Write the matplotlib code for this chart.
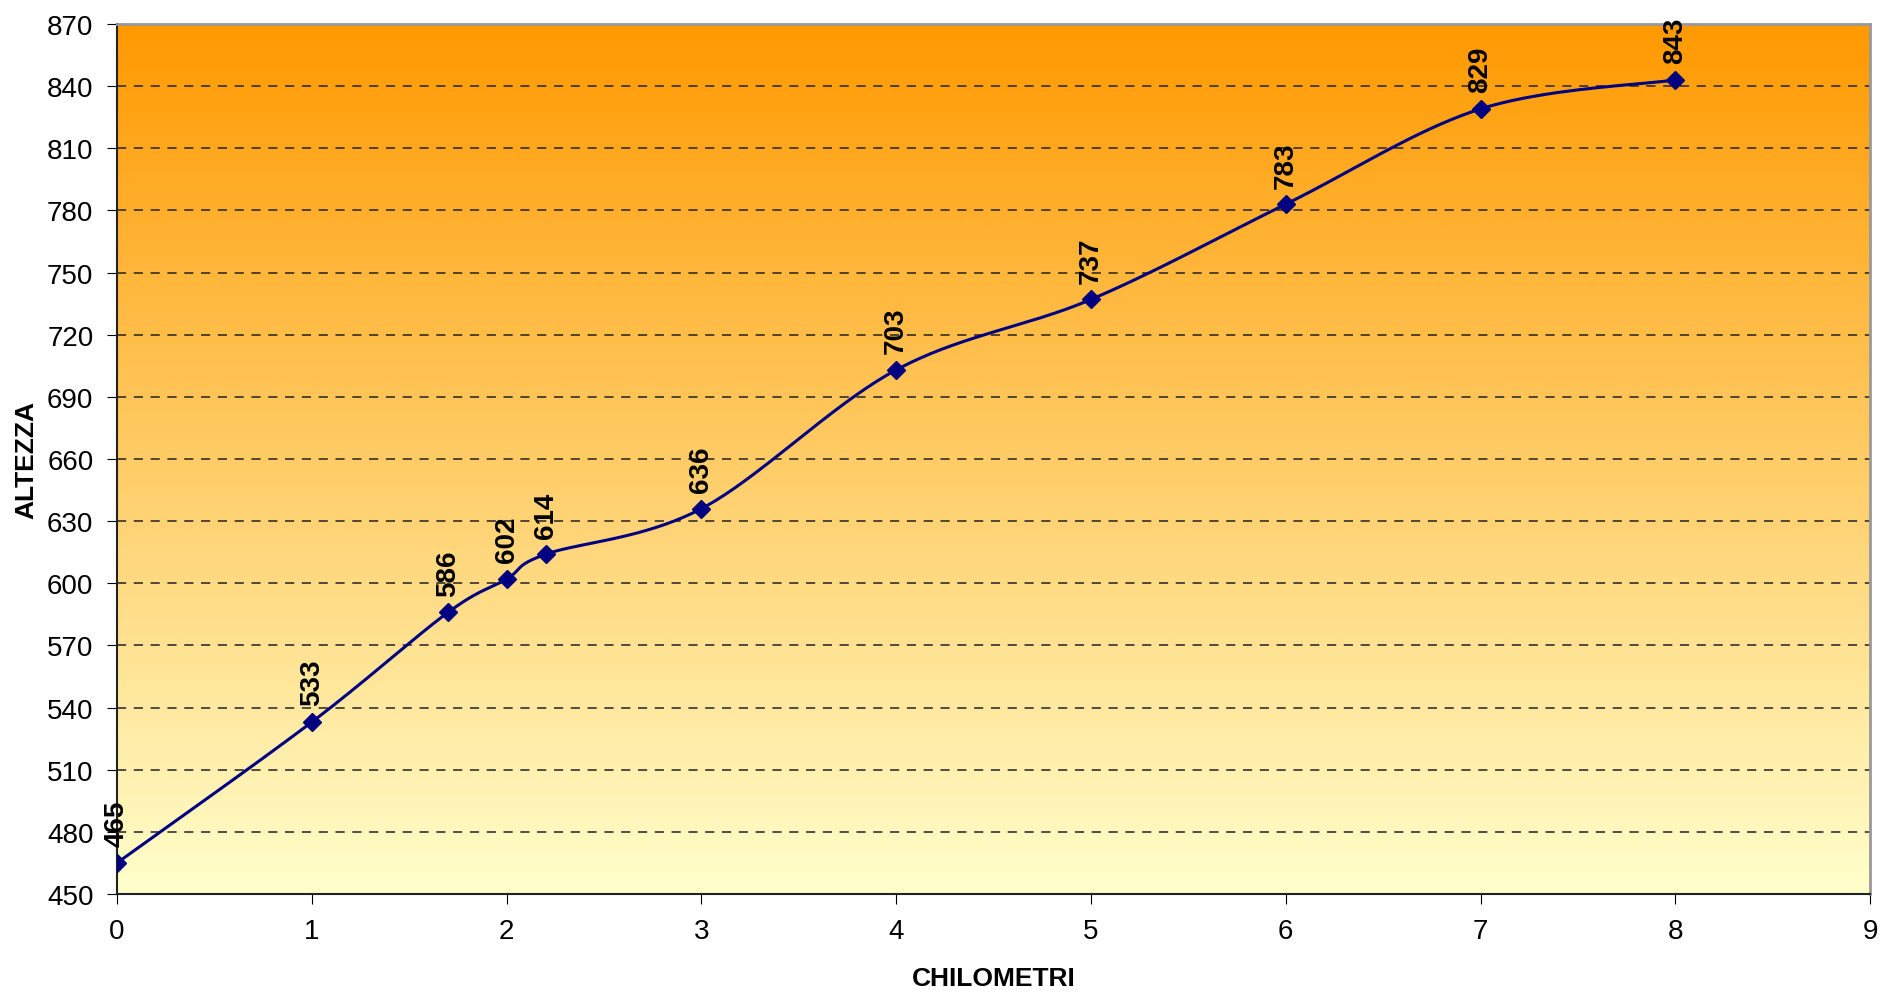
import numpy as np
import matplotlib
matplotlib.use("Agg")
import matplotlib.pyplot as plt
from matplotlib.colors import LinearSegmentedColormap

km = [0, 1, 1.7, 2, 2.2, 3, 4, 5, 6, 7, 8]
altezza = [465, 533, 586, 602, 614, 636, 703, 737, 783, 829, 843]
y_ticks = list(range(450, 871, 30))
x_ticks = list(range(0, 10))

plt.rcParams['font.family'] = ['Liberation Sans', 'DejaVu Sans']


def smooth(xs, ys, sx, sy, n=40):
    # Catmull-Rom through the points, done in scaled (screen-like) units
    p = np.column_stack([np.array(xs) * sx, np.array(ys) * sy])
    p = np.vstack([p[0], p, p[-1]])
    out = []
    for i in range(1, len(p) - 2):
        p0, p1, p2, p3 = p[i - 1], p[i], p[i + 1], p[i + 2]
        t = np.linspace(0, 1, n)[:, None]
        c = 0.5 * ((2 * p1) + (-p0 + p2) * t + (2 * p0 - 5 * p1 + 4 * p2 - p3) * t**2
                   + (-p0 + 3 * p1 - 3 * p2 + p3) * t**3)
        out.append(c)
    c = np.vstack(out)
    return c[:, 0] / sx, c[:, 1] / sy


fig = plt.figure(figsize=(18.81, 9.95), dpi=100)
ax = fig.add_axes([0.0622, 0.1005, 0.932, 0.8744])
ax.set_xlim(0, 9)
ax.set_ylim(450, 870)

cmap = LinearSegmentedColormap.from_list('bg', ['#FFFFCC', '#FF9900'])
grad = np.linspace(0, 1, 256)[:, None]
ax.imshow(grad, extent=[0, 9, 450, 870], origin='lower', aspect='auto', cmap=cmap, zorder=0)

for y in y_ticks[1:-1]:
    ax.axhline(y, color='#222222', lw=1.1, ls=(0, (6, 5)), zorder=1)

sx = 1752 / 9
sy = 870 / 420
cx, cy = smooth(km, altezza, sx, sy)
ax.plot(cx, cy, color='#000080', lw=2.2, zorder=3)
ax.plot(km, altezza, ls='none', marker='D', ms=9, color='#000080', zorder=4)

for x, y in zip(km, altezza):
    ax.annotate(str(y), (x, y), xytext=(0, 12), textcoords='offset points',
                rotation=90, ha='center', va='bottom', fontsize=20, fontweight='bold', zorder=5)

ax.set_xticks(x_ticks)
ax.set_yticks(y_ticks)
ax.tick_params(direction='out', length=7, labelsize=20, pad=10)
for s in ['top', 'right']:
    ax.spines[s].set_color('#999999')
    ax.spines[s].set_linewidth(2)
for s in ['left', 'bottom']:
    ax.spines[s].set_color('#222222')
    ax.spines[s].set_linewidth(1.5)

ax.set_xlabel('CHILOMETRI', fontsize=19, fontweight='bold', labelpad=16)
ax.set_ylabel('ALTEZZA', fontsize=19, fontweight='bold', labelpad=6)

fig.savefig('out.png')
